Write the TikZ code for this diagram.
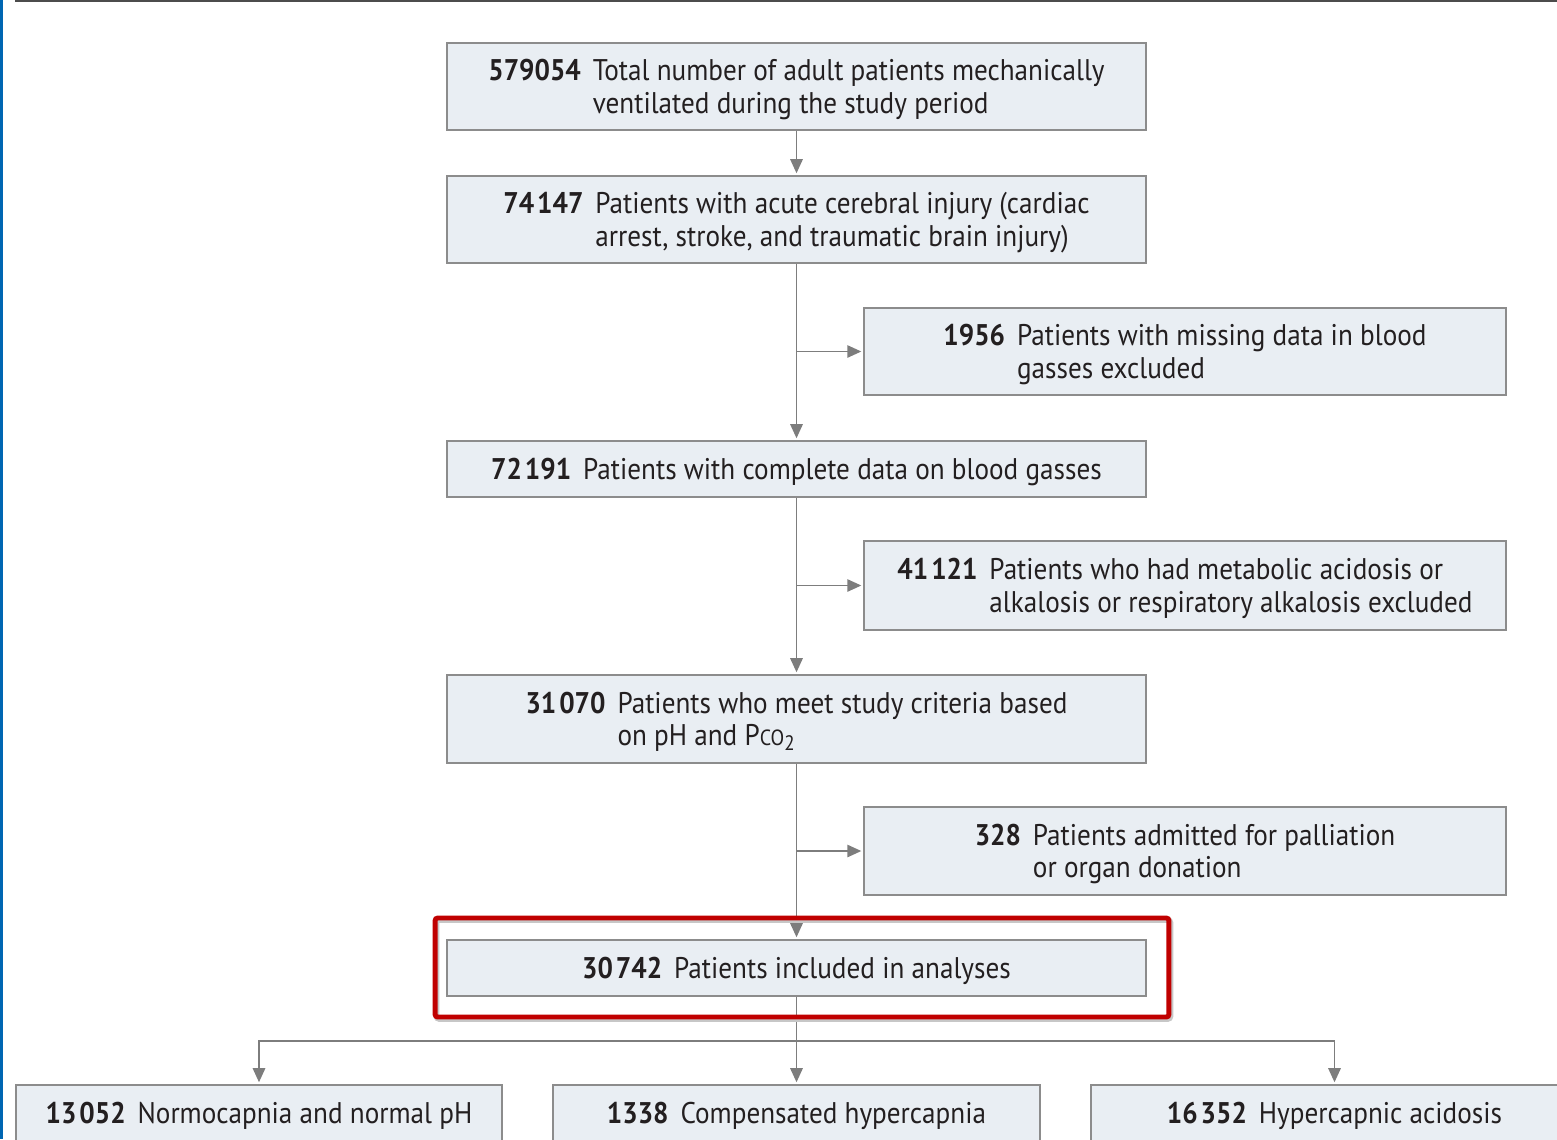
\documentclass[tikz,border=0pt]{standalone}
\usepackage{fontspec}
\setmainfont[FakeStretch=0.91]{PT Sans}
\usetikzlibrary{positioning,arrows.meta}

\definecolor{boxfill}{RGB}{233,238,243}
\definecolor{boxline}{RGB}{140,140,140}
\definecolor{arrowgray}{RGB}{125,125,125}
\definecolor{hired}{RGB}{192,0,0}
\definecolor{txt}{RGB}{35,31,32}
\definecolor{edgeblue}{RGB}{0,102,178}

% number in bold, then the text block
\newcommand{\entry}[2]{\rule{0pt}{17.5pt}\textbf{#1}\hspace{0.4em}\begin{tabular}[t]{@{}l@{}}#2\end{tabular}}

\begin{document}
\begin{tikzpicture}[x=0.02cm, y=-0.02cm,
  box/.style={draw=boxline, fill=boxfill, line width=1.1pt, inner sep=0pt, text=txt,
    font=\fontsize{17}{18.5}\selectfont},
  main/.style={box, minimum width=13.98cm},
  side/.style={box, minimum width=12.84cm},
  leaf/.style={box, minimum width=9.74cm, minimum height=1.12cm},
  link/.style={draw=arrowgray, line width=1.1pt},
  arr/.style={link, -{Triangle[length=8pt,width=7pt]}, shorten >=1pt},
  hilite/.style={draw=hired, line width=2.8pt, rounded corners=1.5pt,
    minimum width=14.68cm, minimum height=1.98cm},
  haze/.style={hilite, draw=black!22, line width=3.2pt}]

\useasboundingbox (0,0) rectangle (1557,1139);
\clip (0,0) rectangle (1557,1139);

% page edges of the screenshot
\fill[edgeblue] (0,0) rectangle (3,1139);
\draw[line width=1.6pt, color=black!70] (15,1) -- (1557,1);

% main column
\node[main, minimum height=1.74cm] (total) at (796.5,86.5)
  {\entry{579054}{Total number of adult patients mechanically\\ventilated during the study period}};
\node[main, minimum height=1.74cm] (acute) at (796.5,219.5)
  {\entry{74\kern0.1em147}{Patients with acute cerebral injury (cardiac\\arrest, stroke, and traumatic brain injury)}};
\node[main, minimum height=1.12cm] (complete) at (796.5,469)
  {\entry{72\kern0.1em191}{Patients with complete data on blood gasses}};
\node[main, minimum height=1.76cm] (criteria) at (796.5,719)
  {\entry{31\kern0.1em070}{Patients who meet study criteria based\\on pH and P{\fontsize{12.5}{12.5}\selectfont CO}\textsubscript{2}}};
\node[main, minimum height=1.12cm] (included) at (796.5,968)
  {\entry{30\kern0.1em742}{Patients included in analyses}};

% exclusions
\node[side, minimum height=1.74cm] (missing) at (1185,351.5)
  {\entry{1956}{Patients with missing data in blood\\gasses excluded}};
\node[side, minimum height=1.78cm] (acidosis) at (1185,585.5)
  {\entry{41\kern0.1em121}{Patients who had metabolic acidosis or\\alkalosis or respiratory alkalosis excluded}};
\node[side, minimum height=1.76cm] (palliation) at (1185,851)
  {\entry{328}{Patients admitted for palliation\\or organ donation}};

% groups
\node[leaf] (normo) at (259,1113) {\entry{13\kern0.1em052}{Normocapnia and normal pH}};
\node[leaf] (compensated) at (796.5,1113) {\entry{1338}{Compensated hypercapnia}};
\node[leaf] (hyper) at (1334.5,1113) {\entry{16\kern0.1em352}{Hypercapnic acidosis}};

% connections
\coordinate (out1) at (797,351.5);
\coordinate (out2) at (797,585.5);
\coordinate (out3) at (797,851);
\coordinate (split) at (796.5,1041);

\draw[arr] (total) -- (acute);
\draw[arr] (acute) -- (complete);
\draw[arr] (complete) -- (criteria);
\draw[arr] (criteria) -- (included);
\draw[arr] (out1) -- (missing);
\draw[arr] (out2) -- (acidosis);
\draw[arr] (out3) -- (palliation);

\draw[link] (included) -- (split);
\draw[arr] (split) -- (compensated);
\draw[arr] (split) -| (normo);
\draw[arr] (split) -| (hyper);

% highlight
\node[haze] (frameshade) at (803.5,969.5) {};
\node[hilite] (frame) at (802,967.5) {};

\end{tikzpicture}
\end{document}
